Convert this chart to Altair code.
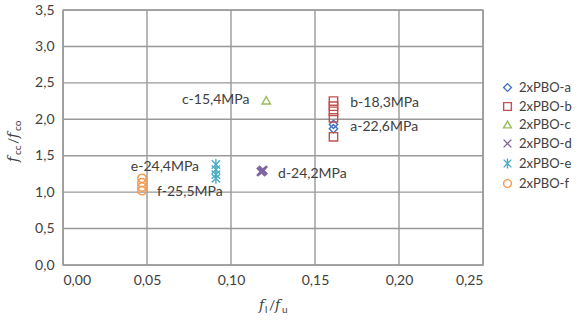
import altair as alt
import pandas as pd

# Confinement ratio f_l/f_u and strength gain f_cc/f_co per specimen series
series_names = ["2xPBO-a", "2xPBO-b", "2xPBO-c", "2xPBO-d", "2xPBO-e", "2xPBO-f"]
x_a = [0.161, 0.161]
y_a = [1.93, 1.87]
x_b = [0.161, 0.161, 0.161, 0.161, 0.161]
y_b = [2.25, 2.18, 2.11, 2.02, 1.76]
x_c = [0.121]
y_c = [2.26]
x_d = [0.118, 0.119]
y_d = [1.28, 1.30]
x_e = [0.091, 0.091, 0.091, 0.091]
y_e = [1.38, 1.31, 1.24, 1.19]
x_f = [0.047, 0.047, 0.047, 0.047]
y_f = [1.19, 1.13, 1.07, 1.02]

# Concrete strength annotations
note_text = ["c-15,4MPa", "b-18,3MPa", "a-22,6MPa", "d-24,2MPa", "e-24,4MPa", "f-25,5MPa"]
note_x = [0.111, 0.171, 0.171, 0.128, 0.081, 0.056]
note_y = [2.26, 2.22, 1.89, 1.25, 1.35, 1.00]
note_align = ["right", "left", "left", "left", "right", "left"]

x_ticks = [0.0, 0.05, 0.10, 0.15, 0.20, 0.25]
y_ticks = [0.0, 0.5, 1.0, 1.5, 2.0, 2.5, 3.0, 3.5]

colors = ["#4472C4", "#C0504D", "#9BBB59", "#8064A2", "#4BACC6", "#F79646"]
shapes = [
    "diamond",
    "square",
    "triangle-up",
    "M-1,-1L1,1M1,-1L-1,1",
    "M-1,-1L1,1M1,-1L-1,1M0,-1.3L0,1.3",
    "circle",
]

rows = []
for name, xs, ys in zip(series_names,
                        [x_a, x_b, x_c, x_d, x_e, x_f],
                        [y_a, y_b, y_c, y_d, y_e, y_f]):
    for xv, yv in zip(xs, ys):
        rows.append({"series": name, "x": xv, "y": yv})
points_df = pd.DataFrame(rows)

notes_df = pd.DataFrame({"text": note_text, "x": note_x, "y": note_y, "align": note_align})

# Gridline segments in data units
grid_rows = [{"gx": v, "gx2": v, "gy": 0.0, "gy2": 3.5} for v in x_ticks] + \
            [{"gx": 0.0, "gx2": 0.25, "gy": v, "gy2": v} for v in y_ticks]
grid_df = pd.DataFrame(grid_rows)

W, H = 420, 255
grid = "#999999"
txt = "#404040"
font = "Lato"

x_scale = alt.Scale(domain=[0, 0.25], nice=False)
y_scale = alt.Scale(domain=[0, 3.5], nice=False)

axis_style = dict(title=None, grid=False, domain=False, ticks=False, labelFont=font,
                  labelFontSize=14, labelColor=txt, labelOverlap=False)

x_axis = alt.Axis(values=x_ticks, labelPadding=8,
                  labelExpr="replace(format(datum.value, '.2f'), '.', ',')", **axis_style)
y_axis = alt.Axis(values=y_ticks, labelPadding=9,
                  labelExpr="replace(format(datum.value, '.1f'), '.', ',')", **axis_style)

gridlines = alt.Chart(grid_df).mark_rule(color=grid, strokeWidth=1.4).encode(
    x=alt.X("gx:Q", scale=x_scale, axis=x_axis), x2="gx2:Q",
    y=alt.Y("gy:Q", scale=y_scale, axis=y_axis), y2="gy2:Q",
)

points = alt.Chart(points_df).mark_point(filled=False, size=70, strokeWidth=1.4, opacity=1).encode(
    x=alt.X("x:Q", scale=x_scale, axis=x_axis),
    y=alt.Y("y:Q", scale=y_scale, axis=y_axis),
    color=alt.Color("series:N", scale=alt.Scale(domain=series_names, range=colors),
                    legend=alt.Legend(title=None, orient="none", legendX=438, legendY=71,
                                      labelFont=font, labelFontSize=13, labelColor=txt,
                                      symbolSize=60, symbolStrokeWidth=1.4, rowPadding=4,
                                      labelOffset=5, padding=0)),
    shape=alt.Shape("series:N", scale=alt.Scale(domain=series_names, range=shapes)),
    strokeWidth=alt.condition(alt.datum.series == "2xPBO-d", alt.value(2.6), alt.value(1.4)),
)


def notes(align):
    return alt.Chart(notes_df[notes_df["align"] == align]).mark_text(
        align=align, baseline="middle", font=font, fontSize=14, color=txt
    ).encode(
        x=alt.X("x:Q", scale=x_scale, axis=x_axis),
        y=alt.Y("y:Q", scale=y_scale, axis=y_axis),
        text="text:N",
    )


# Axis titles with subscripts, assembled from pieces
def piece(t, px, py, size, italic=False, angle=0):
    return alt.Chart(pd.DataFrame({"t": [t]})).mark_text(
        align="left", baseline="alphabetic", font="DejaVu Serif" if italic else font,
        fontStyle="italic" if italic else "normal", fontSize=size, color=txt, angle=angle
    ).encode(x=alt.value(px), y=alt.value(py), text="t:N")


xt_base = 300
x_title = [
    piece("f", 196, xt_base, 14, True),
    piece("l", 202, xt_base + 3, 10),
    piece("/", 206, xt_base, 14),
    piece("f", 212, xt_base, 14, True),
    piece("u", 219, xt_base + 3, 10),
]
yt_x = -45
y_title = [
    piece("f", yt_x, 152, 14, True, 270),
    piece("cc", yt_x + 3, 145, 10, False, 270),
    piece("/", yt_x, 134, 14, False, 270),
    piece("f", yt_x, 128, 14, True, 270),
    piece("co", yt_x + 3, 121, 10, False, 270),
]

chart = alt.layer(gridlines, points, notes("left"), notes("right"),
                  *x_title, *y_title).properties(
    width=W, height=H,
    background="white",
    autosize=alt.AutoSizeParams(type="none"),
    padding={"left": 63, "top": 10, "right": 98, "bottom": 58},
).configure_view(stroke=grid, strokeWidth=1.4)

chart.save("out.html", embed_options={"renderer": "svg", "actions": False})
